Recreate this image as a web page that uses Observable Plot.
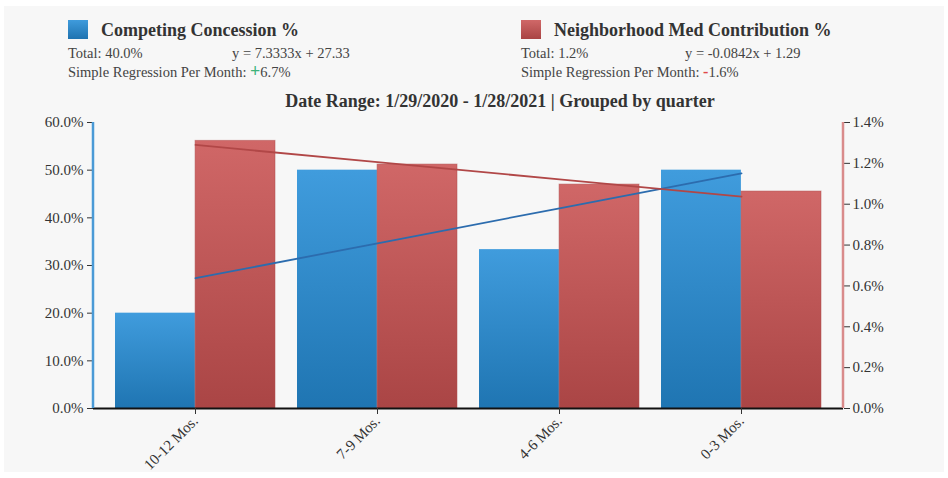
<!DOCTYPE html>
<html>
<head>
<meta charset="utf-8">
<script src="https://cdn.jsdelivr.net/npm/d3@7"></script>
<script src="https://cdn.jsdelivr.net/npm/@observablehq/plot@0.6"></script>
<style>
  html, body { margin: 0; padding: 0; background: #ffffff; }
  #wrap { position: relative; width: 948px; height: 478px; overflow: hidden; font-family: "Liberation Serif", "DejaVu Serif", serif; color: #333; }
  #panel { position: absolute; left: 4px; top: 6px; width: 940px; height: 466px; background: #f7f7f7; }
  .sw { position: absolute; width: 20px; height: 19px; }
  .ttl { position: absolute; font-weight: bold; font-size: 18px; color: #333; white-space: nowrap; }
  .txt { position: absolute; font-size: 14.5px; color: #444; white-space: nowrap; }
  #dr { position: absolute; left: 0; width: 1000px; text-align: center; top: 91px; font-weight: bold; font-size: 18px; color: #333; white-space: nowrap; }
  #chart { position: absolute; left: 0; top: 110px; }
</style>
</head>
<body>
<div id="wrap">
  <div id="panel"></div>
  <div id="legend"></div>
  <div id="dr"></div>
  <div id="chart"></div>
</div>
<script>
// ---- data ----
const categories = ["10-12 Mos.", "7-9 Mos.", "4-6 Mos.", "0-3 Mos."];
const competingConcession = [20.0, 50.0, 33.33, 50.0];          // left axis, %
const neighborhoodMedContribution = [1.31, 1.194, 1.096, 1.062]; // right axis, %
const seriesNames = ["Competing Concession %", "Neighborhood Med Contribution %"];
const seriesTotals = ["40.0%", "1.2%"];
const regressionSlope = [7.3333, -0.0842];
const regressionIntercept = [27.33, 1.29];
const regressionEquations = ["y = 7.3333x + 27.33", "y = -0.0842x + 1.29"];
const regressionPerMonthSign = ["+", "-"];
const regressionPerMonth = ["6.7%", "1.6%"];
const leftTicks = [0, 10, 20, 30, 40, 50, 60];
const rightTicks = [0, 0.2, 0.4, 0.6, 0.8, 1.0, 1.2, 1.4];
const dateRangeTitle = "Date Range: 1/29/2020 - 1/28/2021 | Grouped by quarter";

// ---- layout ----
const leftMax = 60, rightMax = 1.4;
const toLeft = v => v * leftMax / rightMax;

const blueRows = categories.map((c, i) => ({cat: c, v: competingConcession[i]}));
const redRows = categories.map((c, i) => ({cat: c, v: toLeft(neighborhoodMedContribution[i])}));
const blueLine = categories.map((c, i) => ({cat: c, v: regressionIntercept[0] + regressionSlope[0] * i}));
const redLine = categories.map((c, i) => ({cat: c, v: toLeft(regressionIntercept[1] + regressionSlope[1] * i)}));

// header
const legend = document.getElementById("legend");
const legX = [68, 521];
const eqX = [232, 685];
const swatchGrad = ["linear-gradient(#3f9bdc,#1f73b0)", "linear-gradient(#d06868,#a94444)"];
const signColor = ["#3db37a", "#e04848"];
seriesNames.forEach((name, k) => {
  const x = legX[k];
  legend.insertAdjacentHTML("beforeend",
    `<div class="sw" style="left:${x}px;top:20px;background:${swatchGrad[k]}"></div>` +
    `<div class="ttl" style="left:${x + 33}px;top:20px">${name}</div>` +
    `<div class="txt" style="left:${x}px;top:45px">Total: ${seriesTotals[k]}</div>` +
    `<div class="txt" style="left:${eqX[k]}px;top:45px">${regressionEquations[k]}</div>` +
    `<div class="txt" style="left:${x}px;top:64px">Simple Regression Per Month: <span style="color:${signColor[k]};font-weight:bold;font-size:${k === 0 ? 18 : 16}px;line-height:14px">${regressionPerMonthSign[k]}</span>${regressionPerMonth[k]}</div>`);
});
document.getElementById("dr").textContent = dateRangeTitle;

const W = 948, H = 368;
const padding = 0.12;
const step = (W - 93 - 105) / (categories.length + padding);
const half = step * (1 - padding) / 2;

const plot = Plot.plot({
  width: W,
  height: H,
  marginTop: 12,
  marginBottom: 70,
  marginLeft: 93,
  marginRight: 105,
  style: {background: "transparent", fontFamily: "Liberation Serif, serif", fontSize: "15px", color: "#333"},
  x: {domain: categories, padding: padding, label: null},
  y: {domain: [0, leftMax], label: null},
  marks: [
    Plot.barY(blueRows, {x: "cat", y: "v", fill: "url(#gBlue)", insetRight: half}),
    Plot.barY(redRows, {x: "cat", y: "v", fill: "url(#gRed)", stroke: "#b04c4c", strokeOpacity: 0.5, insetLeft: half}),
    Plot.ruleY([0], {stroke: "#111", strokeWidth: 2}),
    Plot.line(blueLine, {x: "cat", y: "v", stroke: "#2c6cae", strokeWidth: 1.8}),
    Plot.line(redLine, {x: "cat", y: "v", stroke: "#b14747", strokeWidth: 1.8}),
    Plot.axisY({ticks: leftTicks, tickFormat: d => d.toFixed(1) + "%", tickSize: 6, tickPadding: 4, fontSize: 15, fill: "#333", label: null}),
    Plot.axisY({anchor: "right", ticks: rightTicks.map(toLeft), tickFormat: d => (d * rightMax / leftMax).toFixed(1) + "%", tickSize: 6, tickPadding: 3, fontSize: 15, fill: "#333", label: null}),
    Plot.axisX({tickRotate: -45, tickSize: 6, tickPadding: 4, fontSize: 15, fill: "#333", label: null})
  ]
});

const svg = d3.select(plot);
const defs = svg.insert("defs", ":first-child");
const g1 = defs.append("linearGradient").attr("id", "gBlue").attr("x1", 0).attr("y1", 0).attr("x2", 0).attr("y2", 1);
g1.append("stop").attr("offset", "0%").attr("stop-color", "#409cdd");
g1.append("stop").attr("offset", "100%").attr("stop-color", "#1f75b2");
const g2 = defs.append("linearGradient").attr("id", "gRed").attr("x1", 0).attr("y1", 0).attr("x2", 0).attr("y2", 1);
g2.append("stop").attr("offset", "0%").attr("stop-color", "#d06767");
g2.append("stop").attr("offset", "100%").attr("stop-color", "#aa4545");

// coloured axis lines
const yTop = 12, yBot = H - 70;
svg.append("line").attr("x1", 93).attr("x2", 93).attr("y1", yTop).attr("y2", yBot)
  .attr("stroke", "#4a9ad6").attr("stroke-width", 2.5);
svg.append("line").attr("x1", W - 105).attr("x2", W - 105).attr("y1", yTop).attr("y2", yBot)
  .attr("stroke", "#d98b8b").attr("stroke-width", 2.5);

document.getElementById("chart").appendChild(plot);
</script>
</body>
</html>
